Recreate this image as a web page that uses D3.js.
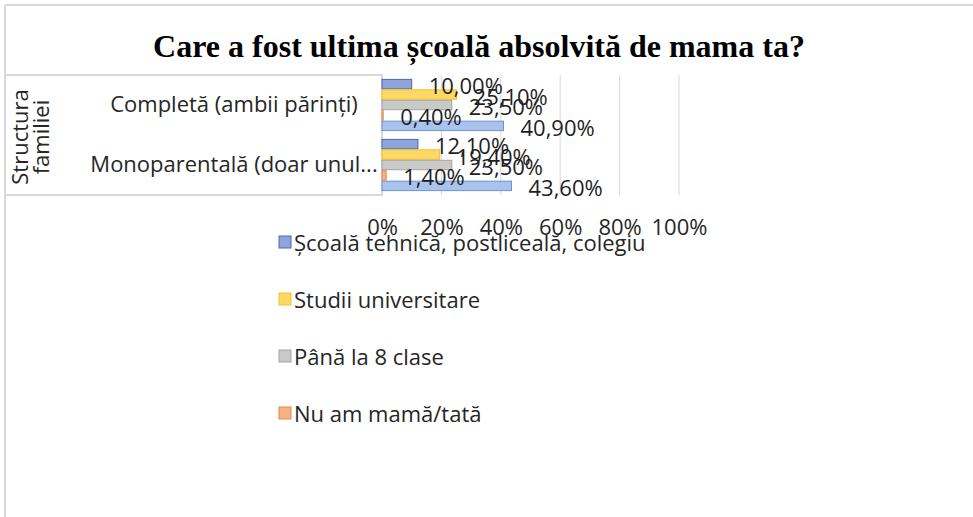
<!DOCTYPE html>
<html>
<head>
<meta charset="utf-8">
<script src="https://cdn.jsdelivr.net/npm/d3@7"></script>
<style>
  body { margin: 0; background: #fff; }
  svg { display: block; }
  text { font-family: 'Open Sans', sans-serif; fill: #262626; }
</style>
</head>
<body>
<div id="chart"></div>
<script>
const svgw = 973
const svgh = 517

const title = 'Care a fost ultima școală absolvită de mama ta?'
const axisTitle = ['Structura', 'familiei']
const categories = ['Completă (ambii părinți)', 'Monoparentală (doar unul...']

// series in drawing order, top bar first
const seriesNames = ['Școală tehnică, postliceală, colegiu', 'Studii universitare', 'Până la 8 clase', 'Nu am mamă/tată', 'Liceu']
const scoalaTehnica = [10.0, 12.1]
const studiiUniv = [25.1, 19.4]
const panaLa8 = [23.5, 23.5]
const nuAmMama = [0.4, 1.4]
const liceu = [40.9, 43.6]
const ticks = [0, 20, 40, 60, 80, 100]
const legendCount = 4 // only four legend entries fit in the frame

const fills = ['#8fa4dc', '#ffd966', '#c9c9c9', '#f4b183', '#a9c3ec']
const strokes = ['#4d68b0', '#f2bf2b', '#a3a3a3', '#e58a4a', '#6b93d6']

const seriesValues = [scoalaTehnica, studiiUniv, panaLa8, nuAmMama, liceu]
const rows = []
categories.forEach((c, ci) => {
    seriesNames.forEach((s, si) => {
        rows.push({ cat: c, series: s, si: si, value: seriesValues[si][ci] })
    })
})

const svg = d3.select('#chart')
    .append('svg')
    .attr('width', svgw)
    .attr('height', svgh)

// outer frame (only top and left edges visible)
svg.append('line').attr('x1', 5).attr('x2', svgw).attr('y1', 5).attr('y2', 5)
    .attr('stroke', '#d9d9d9').attr('stroke-width', 2)
svg.append('line').attr('x1', 5).attr('x2', 5).attr('y1', 5).attr('y2', svgh)
    .attr('stroke', '#d9d9d9').attr('stroke-width', 2)

svg.append('text')
    .attr('x', 479)
    .attr('y', 57)
    .attr('text-anchor', 'middle')
    .style('font-family', "'Liberation Serif', 'Times New Roman', serif")
    .style('font-weight', 'bold')
    .style('font-size', '32px')
    .style('fill', '#000')
    .text(title)

const xScale = d3.scaleLinear()
    .domain([0, 100])
    .range([382, 679])
const yScale = d3.scaleBand()
    .domain(categories)
    .range([75, 195])
    .paddingInner(0.13)
    .paddingOuter(0.065)
const ySub = d3.scaleBand()
    .domain(seriesNames)
    .range([0, yScale.bandwidth()])

// gridlines
svg.append('g')
    .selectAll('line')
    .data(ticks.slice(1))
    .enter()
    .append('line')
    .attr('x1', d => xScale(d))
    .attr('x2', d => xScale(d))
    .attr('y1', 75)
    .attr('y2', 195)
    .attr('stroke', '#d9d9d9')
    .attr('stroke-width', 1)

// category label box
svg.append('rect')
    .attr('x', 5)
    .attr('y', 75)
    .attr('width', 377)
    .attr('height', 120)
    .attr('fill', '#fff')
    .attr('stroke', '#d9d9d9')
    .attr('stroke-width', 2)

const axisG = svg.append('g')
    .attr('transform', 'translate(0,137) rotate(-90)')
axisG.selectAll('text')
    .data(axisTitle)
    .enter()
    .append('text')
    .attr('x', 0)
    .attr('y', (d, i) => 28 + i * 21)
    .attr('text-anchor', 'middle')
    .style('font-size', '22px')
    .text(d => d)

svg.append('g')
    .selectAll('text')
    .data(categories)
    .enter()
    .append('text')
    .attr('x', 234)
    .attr('y', d => yScale(d) + yScale.bandwidth() / 2 - 2)
    .attr('text-anchor', 'middle')
    .attr('dominant-baseline', 'central')
    .style('font-size', '22px')
    .text(d => d)

// bars
svg.append('g')
    .selectAll('rect')
    .data(rows)
    .enter()
    .append('rect')
    .attr('x', xScale(0))
    .attr('y', d => yScale(d.cat) + ySub(d.series) + 0.5)
    .attr('width', d => Math.max(xScale(d.value) - xScale(0), 1))
    .attr('height', ySub.bandwidth() - 1)
    .attr('fill', d => fills[d.si])
    .attr('stroke', d => strokes[d.si])
    .attr('stroke-width', 1)

// data labels
svg.append('g')
    .selectAll('text')
    .data(rows)
    .enter()
    .append('text')
    .attr('x', d => xScale(d.value) + 17)
    .attr('y', d => yScale(d.cat) + ySub(d.series) + ySub.bandwidth() / 2 + 1)
    .attr('dominant-baseline', 'central')
    .style('font-size', '22px')
    .style('fill', '#1f1f1f')
    .text(d => d.value.toFixed(2).replace('.', ',') + '%')

// x axis labels
const xAxis = d3.axisBottom(xScale)
    .tickValues(ticks)
    .tickSize(0)
    .tickPadding(0)
    .tickFormat(d => d + '%')
const xg = svg.append('g')
    .attr('transform', 'translate(0,219)')
    .call(xAxis)
xg.select('.domain').remove()
xg.selectAll('text')
    .style('font-family', "'Open Sans', sans-serif")
    .style('font-size', '22px')
    .style('fill', '#262626')

// legend
const legend = svg.append('g')
    .selectAll('g')
    .data(seriesNames.slice(0, legendCount))
    .enter()
    .append('g')
    .attr('transform', (d, i) => `translate(279,${242 + i * 57})`)
legend.append('rect')
    .attr('x', 0)
    .attr('y', -6)
    .attr('width', 12)
    .attr('height', 12)
    .attr('fill', (d, i) => fills[i])
    .attr('stroke', (d, i) => strokes[i])
legend.append('text')
    .attr('x', 15)
    .attr('y', 0)
    .attr('dominant-baseline', 'central')
    .style('font-size', '22px')
    .text(d => d)
</script>
</body>
</html>
